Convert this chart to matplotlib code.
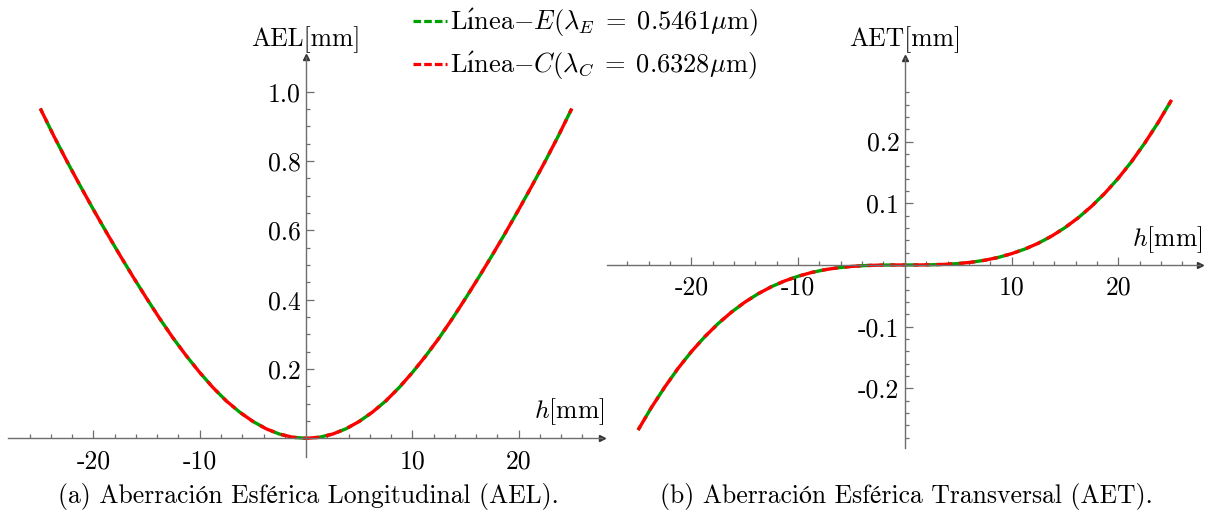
import matplotlib
matplotlib.use("Agg")
import matplotlib.pyplot as plt
from matplotlib.lines import Line2D

plt.rcParams['font.family'] = ['cmr10', 'STIXGeneral']
plt.rcParams['mathtext.fontset'] = 'cm'
plt.rcParams['mathtext.fallback'] = 'stix'
plt.rcParams['axes.unicode_minus'] = False
plt.rcParams['lines.scale_dashes'] = False

# datos (paso 1.25 mm)
h = [-25, -23.75, -22.5, -21.25, -20, -18.75, -17.5, -16.25, -15, -13.75, -12.5,
     -11.25, -10, -8.75, -7.5, -6.25, -5, -3.75, -2.5, -1.25, 0,
     1.25, 2.5, 3.75, 5, 6.25, 7.5, 8.75, 10, 11.25, 12.5,
     13.75, 15, 16.25, 17.5, 18.75, 20, 21.25, 22.5, 23.75, 25]

# AEL [mm]
ael_E = [0.952, 0.874, 0.800, 0.729, 0.660, 0.593, 0.528, 0.465, 0.404, 0.345, 0.289,
         0.2376, 0.190, 0.1464, 0.108, 0.0758, 0.0488, 0.0275, 0.0123, 0.0031, 0.0,
         0.0031, 0.0123, 0.0275, 0.0488, 0.0758, 0.108, 0.1464, 0.190, 0.2376, 0.289,
         0.345, 0.404, 0.465, 0.528, 0.593, 0.660, 0.729, 0.800, 0.874, 0.952]
ael_C = [0.952, 0.874, 0.800, 0.729, 0.660, 0.593, 0.528, 0.465, 0.404, 0.345, 0.289,
         0.2376, 0.190, 0.1464, 0.108, 0.0758, 0.0488, 0.0275, 0.0123, 0.0031, 0.0,
         0.0031, 0.0123, 0.0275, 0.0488, 0.0758, 0.108, 0.1464, 0.190, 0.2376, 0.289,
         0.345, 0.404, 0.465, 0.528, 0.593, 0.660, 0.729, 0.800, 0.874, 0.952]

# AET [mm]
aet_E = [-0.2676, -0.2311, -0.1980, -0.1676, -0.1405, -0.1164, -0.0951, -0.0765, -0.0604, -0.0467, -0.0352,
         -0.0258, -0.0183, -0.0122, -0.0077, -0.0045, -0.0023, -0.0010, -0.0003, -0.00004, 0.0,
         0.00004, 0.0003, 0.0010, 0.0023, 0.0045, 0.0077, 0.0122, 0.0183, 0.0258, 0.0352,
         0.0467, 0.0604, 0.0765, 0.0951, 0.1164, 0.1405, 0.1676, 0.1980, 0.2311, 0.2676]
aet_C = [-0.2676, -0.2311, -0.1980, -0.1676, -0.1405, -0.1164, -0.0951, -0.0765, -0.0604, -0.0467, -0.0352,
         -0.0258, -0.0183, -0.0122, -0.0077, -0.0045, -0.0023, -0.0010, -0.0003, -0.00004, 0.0,
         0.00004, 0.0003, 0.0010, 0.0023, 0.0045, 0.0077, 0.0122, 0.0183, 0.0258, 0.0352,
         0.0467, 0.0604, 0.0765, 0.0951, 0.1164, 0.1405, 0.1676, 0.1980, 0.2311, 0.2676]

x_major = [-20, -10, 10, 20]
x_labels = ['-20', '-10', '10', '20']
x_minor = [-26, -24, -22, -18, -16, -14, -12, -8, -6, -4, -2,
           2, 4, 6, 8, 12, 14, 16, 18, 22, 24, 26]

ael_major = [0.2, 0.4, 0.6, 0.8, 1.0]
ael_labels = ['0.2', '0.4', '0.6', '0.8', '1.0']
ael_minor = [0.05, 0.1, 0.15, 0.25, 0.3, 0.35, 0.45, 0.5, 0.55, 0.65, 0.7, 0.75, 0.85, 0.9, 0.95]

aet_major = [-0.2, -0.1, 0.1, 0.2]
aet_labels = ['-0.2', '-0.1', '0.1', '0.2']
aet_minor = [-0.28, -0.26, -0.24, -0.22, -0.18, -0.16, -0.14, -0.12, -0.08, -0.06, -0.04, -0.02,
             0.02, 0.04, 0.06, 0.08, 0.12, 0.14, 0.16, 0.18, 0.22, 0.24, 0.26, 0.28]

leyenda = [r"L$\mathrm{\'{ı}}$nea$-E(\lambda_E \;=\; 0.5461\mu$m)",
           r"L$\mathrm{\'{ı}}$nea$-C(\lambda_C \;=\; 0.6328\mu$m)"]

verde = '#00a000'
rojo = '#ff0000'
gris = '#6e6e6e'
fs = 18.5

W, H = 1208, 518
fig = plt.figure(figsize=(W / 100, H / 100), dpi=100)


def ejes(ax, xlim, ylim, ymaj, ylab, ymin):
    ax.set_xlim(*xlim)
    ax.set_ylim(*ylim)
    for s in ['top', 'right']:
        ax.spines[s].set_visible(False)
    for s in ['left', 'bottom']:
        ax.spines[s].set_position(('data', 0))
        ax.spines[s].set_color(gris)
        ax.spines[s].set_linewidth(1.0)
    ax.set_xticks(x_major)
    ax.set_xticklabels(x_labels)
    ax.set_xticks(x_minor, minor=True)
    ax.set_yticks(ymaj)
    ax.set_yticklabels(ylab)
    ax.set_yticks(ymin, minor=True)
    ax.tick_params(which='both', direction='in', color=gris, width=0.9, labelsize=fs)
    ax.tick_params(which='major', length=5.5)
    ax.tick_params(which='minor', length=3)
    ax.tick_params(axis='x', pad=8)
    ax.tick_params(axis='y', pad=4)
    ax.patch.set_alpha(0)
    # flechas
    ax.plot(1, 0, '>', color='#333333', ms=4.5, transform=ax.get_yaxis_transform(), clip_on=False)
    ax.plot(0, 1, '^', color='#333333', ms=4.5, transform=ax.get_xaxis_transform(), clip_on=False)


# (a) AEL
ax1 = fig.add_axes([8.4 / W, 1 - 457.4 / H, 593.2 / W, 400.2 / H])
ejes(ax1, (-28.0, 27.8), (-0.055, 1.10), ael_major, ael_labels, ael_minor)
ax1.plot(h, ael_E, color=verde, lw=2.4, linestyle=(8, (11.5, 5)))
ax1.plot(h, ael_C, color=rojo, lw=2.4, linestyle=(0, (11.5, 5)))

# (b) AET
ax2 = fig.add_axes([607.1 / W, 1 - 448.2 / H, 593.3 / W, 389.9 / H])
ejes(ax2, (-27.9, 27.7), (-0.297, 0.335), aet_major, aet_labels, aet_minor)
ax2.plot(h, aet_E, color=verde, lw=2.4, linestyle=(8, (11.5, 5)))
ax2.plot(h, aet_C, color=rojo, lw=2.4, linestyle=(0, (11.5, 5)))

# etiquetas de ejes
fig.text(306 / W, 1 - 40 / H, 'AEL[mm]', ha='center', va='center', fontsize=fs)
fig.text(905 / W, 1 - 40 / H, 'AET[mm]', ha='center', va='center', fontsize=fs)
fig.text(605 / W, 1 - 418 / H, '$h$[mm]', ha='right', va='baseline', fontsize=fs)
fig.text(1203 / W, 1 - 246 / H, '$h$[mm]', ha='right', va='baseline', fontsize=fs)

# leyenda
hE = Line2D([], [], color=verde, lw=2.3, linestyle=(0, (5.5, 2.2)))
hC = Line2D([], [], color=rojo, lw=2.3, linestyle=(0, (5.5, 2.2)))
fig.legend([hE, hC], leyenda,
           loc='upper left', bbox_to_anchor=(413 / W, 1 - 7 / H), frameon=False,
           fontsize=19, handlelength=1.3, handletextpad=0.1, borderpad=0,
           borderaxespad=0, labelspacing=0.38)

# subtitulos
fig.text(308 / W, 1 - 497 / H, '(a) Aberración Esférica Longitudinal (AEL).',
         ha='center', va='center', fontsize=fs)
fig.text(906 / W, 1 - 497 / H, '(b) Aberración Esférica Transversal (AET).',
         ha='center', va='center', fontsize=fs)

fig.savefig('out.png', dpi=100)
